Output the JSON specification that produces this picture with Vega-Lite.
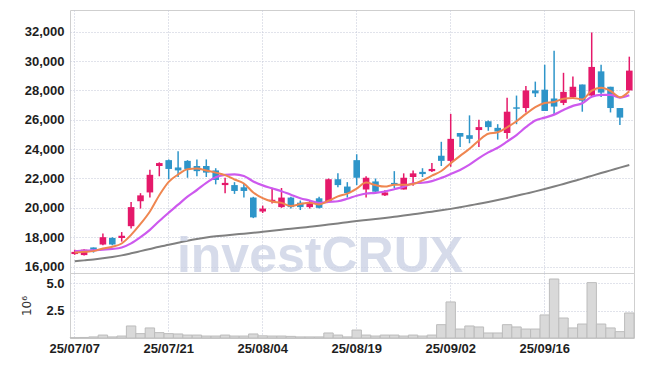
{
  "$schema": "https://vega.github.io/schema/vega-lite/v6.json",
  "background": "white",
  "padding": {"left": 20, "top": 9, "right": 5, "bottom": 5},
  "spacing": 0,
  "bounds": "flush",
  "config": {
    "view": {"stroke": "#cfcfcf", "strokeWidth": 1},
    "axis": {
      "labelFont": "Liberation Sans, Arial, sans-serif",
      "labelFontSize": 13,
      "labelFontWeight": "bold",
      "labelColor": "#1e1e1e",
      "labelOverlap": false,
      "gridColor": "#c2c6d6",
      "gridDash": [1, 2],
      "gridWidth": 1,
      "domain": false,
      "ticks": false
    }
  },
  "datasets": {
    "ohlc": [
      {"date":"25/07/07","open":16850,"high":17150,"low":16800,"close":17000,"ma5":16950,"ma10":17050,"ma60":16360,"volume":30000},
      {"date":"25/07/08","open":16780,"high":17180,"low":16750,"close":17150,"ma5":17000,"ma10":17080,"ma60":16420,"volume":50000},
      {"date":"25/07/09","open":17300,"high":17300,"low":16950,"close":17150,"ma5":17050,"ma10":17100,"ma60":16480,"volume":100000},
      {"date":"25/07/10","open":17500,"high":18250,"low":17450,"close":18000,"ma5":17230,"ma10":17150,"ma60":16560,"volume":270000},
      {"date":"25/07/11","open":17950,"high":18000,"low":17450,"close":17500,"ma5":17350,"ma10":17200,"ma60":16650,"volume":100000},
      {"date":"25/07/14","open":17950,"high":18350,"low":17700,"close":18100,"ma5":17570,"ma10":17300,"ma60":16760,"volume":180000},
      {"date":"25/07/15","open":18750,"high":20400,"low":18600,"close":20050,"ma5":18160,"ma10":17580,"ma60":16900,"volume":1100000},
      {"date":"25/07/16","open":20450,"high":21000,"low":19950,"close":20850,"ma5":18900,"ma10":18000,"ma60":17050,"volume":400000},
      {"date":"25/07/17","open":21050,"high":22600,"low":20700,"close":22250,"ma5":19750,"ma10":18500,"ma60":17200,"volume":920000},
      {"date":"25/07/18","open":22850,"high":23100,"low":22150,"close":23050,"ma5":20860,"ma10":19105,"ma60":17350,"volume":490000},
      {"date":"25/07/21","open":23250,"high":23300,"low":21950,"close":22650,"ma5":21770,"ma10":19670,"ma60":17480,"volume":400000},
      {"date":"25/07/22","open":22750,"high":23850,"low":22100,"close":22550,"ma5":22270,"ma10":20215,"ma60":17620,"volume":370000},
      {"date":"25/07/23","open":23200,"high":23250,"low":22050,"close":22650,"ma5":22630,"ma10":20765,"ma60":17760,"volume":270000},
      {"date":"25/07/24","open":22850,"high":23300,"low":22150,"close":22500,"ma5":22680,"ma10":21215,"ma60":17880,"volume":270000},
      {"date":"25/07/25","open":22850,"high":23300,"low":22100,"close":22400,"ma5":22550,"ma10":21705,"ma60":17980,"volume":180000},
      {"date":"25/07/28","open":22550,"high":22700,"low":21600,"close":21900,"ma5":22400,"ma10":22085,"ma60":18060,"volume":180000},
      {"date":"25/07/29","open":21550,"high":22050,"low":21000,"close":21700,"ma5":22230,"ma10":22250,"ma60":18120,"volume":270000},
      {"date":"25/07/30","open":21550,"high":21750,"low":20950,"close":21150,"ma5":21930,"ma10":22280,"ma60":18180,"volume":180000},
      {"date":"25/07/31","open":21400,"high":21700,"low":20700,"close":21150,"ma5":21660,"ma10":22170,"ma60":18240,"volume":180000},
      {"date":"25/08/01","open":20700,"high":20750,"low":19300,"close":19350,"ma5":21050,"ma10":21800,"ma60":18300,"volume":370000},
      {"date":"25/08/04","open":19750,"high":20150,"low":19650,"close":19950,"ma5":20660,"ma10":21530,"ma60":18370,"volume":200000},
      {"date":"25/08/05","open":20450,"high":21350,"low":20300,"close":20550,"ma5":20430,"ma10":21330,"ma60":18440,"volume":180000},
      {"date":"25/08/06","open":20050,"high":21350,"low":20000,"close":20700,"ma5":20340,"ma10":21135,"ma60":18510,"volume":180000},
      {"date":"25/08/07","open":20700,"high":20750,"low":19950,"close":20050,"ma5":20120,"ma10":20890,"ma60":18580,"volume":150000},
      {"date":"25/08/08","open":20350,"high":20500,"low":19850,"close":20050,"ma5":20260,"ma10":20655,"ma60":18640,"volume":100000},
      {"date":"25/08/11","open":20050,"high":20500,"low":19950,"close":20350,"ma5":20340,"ma10":20500,"ma60":18710,"volume":100000},
      {"date":"25/08/12","open":20650,"high":20750,"low":19950,"close":20000,"ma5":20230,"ma10":20330,"ma60":18780,"volume":100000},
      {"date":"25/08/13","open":20450,"high":22000,"low":20450,"close":21950,"ma5":20480,"ma10":20410,"ma60":18860,"volume":460000},
      {"date":"25/08/14","open":21950,"high":22350,"low":21400,"close":21550,"ma5":20780,"ma10":20450,"ma60":18940,"volume":270000},
      {"date":"25/08/18","open":21450,"high":21750,"low":20700,"close":21000,"ma5":20970,"ma10":20615,"ma60":19020,"volume":100000},
      {"date":"25/08/19","open":23250,"high":23650,"low":21550,"close":22050,"ma5":21310,"ma10":20825,"ma60":19100,"volume":730000},
      {"date":"25/08/20","open":21250,"high":22150,"low":20700,"close":22050,"ma5":21720,"ma10":20975,"ma60":19170,"volume":270000},
      {"date":"25/08/21","open":21800,"high":22000,"low":21000,"close":21100,"ma5":21550,"ma10":21015,"ma60":19240,"volume":180000},
      {"date":"25/08/22","open":20850,"high":21200,"low":20800,"close":21050,"ma5":21450,"ma10":21115,"ma60":19310,"volume":270000},
      {"date":"25/08/25","open":21700,"high":22500,"low":21350,"close":21600,"ma5":21570,"ma10":21270,"ma60":19390,"volume":270000},
      {"date":"25/08/26","open":21250,"high":22350,"low":21250,"close":22050,"ma5":21570,"ma10":21440,"ma60":19470,"volume":180000},
      {"date":"25/08/27","open":22100,"high":22550,"low":21500,"close":22350,"ma5":21630,"ma10":21675,"ma60":19560,"volume":270000},
      {"date":"25/08/28","open":22450,"high":22700,"low":22100,"close":22300,"ma5":21870,"ma10":21710,"ma60":19650,"volume":180000},
      {"date":"25/08/29","open":22500,"high":23050,"low":22450,"close":22650,"ma5":22190,"ma10":21820,"ma60":19740,"volume":270000},
      {"date":"25/09/01","open":23550,"high":24500,"low":22850,"close":23200,"ma5":22510,"ma10":22040,"ma60":19830,"volume":1220000},
      {"date":"25/09/02","open":23200,"high":26400,"low":22800,"close":24700,"ma5":23040,"ma10":22305,"ma60":19930,"volume":3300000},
      {"date":"25/09/03","open":25100,"high":25100,"low":24150,"close":24850,"ma5":23540,"ma10":22585,"ma60":20040,"volume":820000},
      {"date":"25/09/04","open":24950,"high":26300,"low":24400,"close":24700,"ma5":24020,"ma10":22945,"ma60":20160,"volume":1100000},
      {"date":"25/09/05","open":25300,"high":26000,"low":24150,"close":25500,"ma5":24590,"ma10":23390,"ma60":20280,"volume":1010000},
      {"date":"25/09/08","open":25900,"high":25950,"low":25250,"close":25500,"ma5":25050,"ma10":23780,"ma60":20400,"volume":460000},
      {"date":"25/09/09","open":25450,"high":25700,"low":24650,"close":25200,"ma5":25150,"ma10":24095,"ma60":20530,"volume":460000},
      {"date":"25/09/10","open":25100,"high":27500,"low":24700,"close":26550,"ma5":25490,"ma10":24515,"ma60":20670,"volume":1220000},
      {"date":"25/09/11","open":26850,"high":27650,"low":25700,"close":26750,"ma5":25900,"ma10":24960,"ma60":20820,"volume":1010000},
      {"date":"25/09/12","open":26800,"high":28300,"low":26500,"close":28000,"ma5":26400,"ma10":25495,"ma60":20970,"volume":820000},
      {"date":"25/09/15","open":28000,"high":28600,"low":27550,"close":27800,"ma5":26860,"ma10":25955,"ma60":21120,"volume":820000},
      {"date":"25/09/16","open":28050,"high":29750,"low":26600,"close":26600,"ma5":27140,"ma10":26145,"ma60":21280,"volume":2110000},
      {"date":"25/09/17","open":27450,"high":30700,"low":26350,"close":26900,"ma5":27210,"ma10":26350,"ma60":21450,"volume":5400000},
      {"date":"25/09/18","open":27150,"high":29200,"low":27000,"close":27900,"ma5":27440,"ma10":26670,"ma60":21630,"volume":1830000},
      {"date":"25/09/19","open":27550,"high":28950,"low":27450,"close":28250,"ma5":27490,"ma10":26945,"ma60":21810,"volume":920000},
      {"date":"25/09/22","open":28400,"high":28400,"low":26550,"close":27300,"ma5":27390,"ma10":27125,"ma60":21990,"volume":1280000},
      {"date":"25/09/23","open":27650,"high":31950,"low":27550,"close":29600,"ma5":27990,"ma10":27565,"ma60":22180,"volume":5070000},
      {"date":"25/09/24","open":29300,"high":29750,"low":27550,"close":27850,"ma5":28180,"ma10":27695,"ma60":22370,"volume":1280000},
      {"date":"25/09/25","open":28250,"high":28250,"low":26500,"close":26800,"ma5":27960,"ma10":27700,"ma60":22550,"volume":920000},
      {"date":"25/09/26","open":26800,"high":26800,"low":25650,"close":26150,"ma5":27540,"ma10":27515,"ma60":22740,"volume":580000},
      {"date":"25/09/29","open":28000,"high":30300,"low":28000,"close":29350,"ma5":27950,"ma10":27670,"ma60":22920,"volume":2290000}
    ]
  },
  "vconcat": [
    {
      "width": 564,
      "height": 263,
      "data": {"name": "ohlc"},
      "encoding": {
        "x": {"field": "date", "type": "ordinal", "sort": null, "scale": {"type": "band", "paddingInner": 0, "paddingOuter": 0}, "axis": {"values": ["25/07/07","25/07/21","25/08/04","25/08/19","25/09/02","25/09/16"], "tickCount": 60, "labels": false, "title": null, "grid": true, "bandPosition": 0.5}}
      },
      "layer": [
        {
          "mark": {"type": "rule", "strokeWidth": 1.5},
          "encoding": {
            "y": {"field": "low", "type": "quantitative", "title": null, "scale": {"domain": [15560, 33480], "nice": false, "zero": false}, "axis": {"values": [16000,18000,20000,22000,24000,26000,28000,30000,32000], "tickCount": 20, "format": ",d", "grid": true, "labelPadding": 6, "labelOverlap": false}},
            "y2": {"field": "high"},
            "color": {"condition": {"test": "datum.close >= datum.open", "value": "#e5196a"}, "value": "#2e95c9"}
          }
        },
        {
          "mark": {"type": "bar", "width": {"band": 0.7}},
          "encoding": {
            "y": {"field": "open", "type": "quantitative", "title": null},
            "y2": {"field": "close"},
            "color": {"condition": {"test": "datum.close >= datum.open", "value": "#e5196a"}, "value": "#2e95c9"}
          }
        },
        {
          "mark": {"type": "line", "color": "#808080", "strokeWidth": 2, "interpolate": "monotone"},
          "encoding": {
            "y": {"field": "ma60", "type": "quantitative", "title": null}
          }
        },
        {
          "mark": {"type": "line", "color": "#cd59ee", "strokeWidth": 2.2, "interpolate": "monotone"},
          "encoding": {
            "y": {"field": "ma10", "type": "quantitative", "title": null}
          }
        },
        {
          "mark": {"type": "line", "color": "#ef8650", "strokeWidth": 2, "interpolate": "monotone"},
          "encoding": {
            "y": {"field": "ma5", "type": "quantitative", "title": null}
          }
        },
        {
          "data": {"values": [{"label": "investCRUX"}]},
          "mark": {"type": "text", "font": "Liberation Sans, Arial, sans-serif", "fontWeight": "bold", "fontSize": 50, "color": "#c9d0e3", "opacity": 0.75, "align": "center", "baseline": "alphabetic", "dx": -32},
          "encoding": {
            "x": {"value": 282},
            "y": {"datum": 15640, "type": "quantitative"},
            "text": {"field": "label"}
          }
        }
      ]
    },
    {
      "width": 564,
      "height": 65,
      "data": {"name": "ohlc"},
      "mark": {"type": "bar", "fill": "#d9d9d9", "stroke": "#bcbcbc", "strokeWidth": 1},
      "encoding": {
        "x": {"field": "date", "type": "ordinal", "sort": null, "scale": {"type": "band", "paddingInner": 0, "paddingOuter": 0}, "axis": {"values": ["25/07/07","25/07/21","25/08/04","25/08/19","25/09/02","25/09/16"], "tickCount": 60, "labelAngle": 0, "labelPadding": 4, "title": null, "grid": true, "bandPosition": 0.5}},
        "y": {"field": "volume", "type": "quantitative", "scale": {"domain": [0, 5950000], "nice": false}, "axis": {"values": [2500000, 5000000], "tickCount": 10, "labelExpr": "format(datum.value / 1000000, '.1f')", "grid": true, "labelPadding": 6, "title": "10⁶", "titleFont": "DejaVu Sans, sans-serif", "titleFontSize": 12, "titleFontWeight": "normal", "titleColor": "#333333", "titlePadding": 12}}
      }
    }
  ]
}
